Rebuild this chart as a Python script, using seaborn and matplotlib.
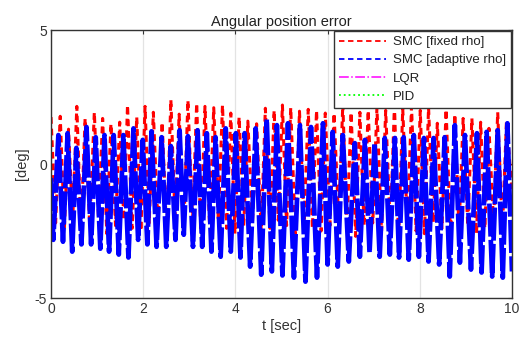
import matplotlib
matplotlib.use("Agg")
import matplotlib.pyplot as plt
from matplotlib.lines import Line2D
import seaborn as sns
import pandas as pd

# ---- data ----
blue_start = (0.0, -0.52)
blue_end = (10.0, -4.01)
blue_peak_t = [0.16, 0.36, 0.55, 0.77, 0.97, 1.16, 1.36, 1.57, 1.79, 1.99, 2.18, 2.40,
               2.60, 2.79, 2.97, 3.18, 3.38, 3.57, 3.79, 4.01, 4.20, 4.44, 4.68, 4.90,
               5.14, 5.40, 5.64, 5.90, 6.11, 6.33, 6.59, 6.81, 7.02, 7.24, 7.46, 7.65,
               7.87, 8.09, 8.30, 8.54, 8.76, 8.98, 9.24, 9.45, 9.69, 9.90]
blue_peak = [1.08, 1.15, 0.60, 1.38, 1.00, 1.08, 1.08, 1.08, 1.33, 0.90, 1.22, 1.00,
             0.67, 1.26, 1.04, 1.26, 1.15, 1.00, 1.33, 1.15, 1.15, 1.33, 1.67, 1.45,
             1.52, 1.45, 1.38, 1.52, 1.20, 1.08, 0.78, 0.90, 0.78, 0.97, 0.97, 1.00,
             1.08, 0.97, 0.97, 1.00, 1.45, 1.08, 1.15, 1.20, 1.26, 1.52]
blue_trough_t = [0.05, 0.26, 0.46, 0.66, 0.87, 1.07, 1.26, 1.47, 1.68, 1.89, 2.09, 2.29,
                 2.50, 2.70, 2.88, 3.08, 3.28, 3.48, 3.68, 3.90, 4.11, 4.32, 4.56, 4.79,
                 5.02, 5.27, 5.52, 5.77, 6.00, 6.22, 6.46, 6.70, 6.91, 7.13, 7.35, 7.55,
                 7.76, 7.98, 8.19, 8.42, 8.65, 8.87, 9.11, 9.34, 9.57, 9.80]
blue_trough = [-2.83, -2.90, -3.27, -3.00, -3.00, -3.16, -3.27, -3.38, -3.49, -2.83, -3.00, -3.09,
               -3.09, -2.83, -2.64, -3.09, -3.09, -3.27, -3.46, -3.27, -3.49, -3.83, -4.13, -4.01,
               -4.16, -4.24, -4.39, -4.24, -3.75, -3.83, -3.64, -3.46, -3.31, -3.46, -3.38, -3.49,
               -3.57, -3.46, -3.64, -3.75, -4.20, -3.68, -3.94, -4.05, -4.20, -4.24]

red_start = (0.0, 1.75)
red_end = (10.0, -1.0)
red_peak_t = [0.20, 0.38, 0.56, 0.74, 0.94, 1.12, 1.30, 1.49, 1.66, 1.86, 2.04, 2.22,
              2.41, 2.60, 2.78, 2.97, 3.16, 3.34, 3.53, 3.72, 3.90, 4.08, 4.27, 4.46,
              4.65, 4.84, 5.02, 5.20, 5.39, 5.58, 5.76, 5.95, 6.14, 6.33, 6.51, 6.70,
              6.88, 7.07, 7.26, 7.45, 7.63, 7.82, 8.01, 8.19, 8.38, 8.57, 8.76, 8.94,
              9.13, 9.32, 9.50, 9.69, 9.88]
red_peak = [1.78, 1.30, 2.15, 1.70, 1.93, 1.70, 1.50, 1.56, 2.20, 1.75, 2.15, 1.93,
            1.56, 2.40, 1.86, 2.38, 2.27, 2.15, 2.10, 2.20, 1.90, 1.75, 1.60, 1.50,
            2.08, 2.00, 2.20, 2.10, 1.97, 2.04, 2.00, 1.90, 1.90, 2.23, 1.93, 1.93,
            2.00, 2.10, 2.00, 2.20, 2.05, 2.15, 2.00, 2.10, 1.52, 2.04, 1.86, 1.70,
            1.70, 1.56, 1.33, 1.93, 1.60]
red_trough_t = [0.10, 0.29, 0.47, 0.65, 0.84, 1.03, 1.21, 1.40, 1.58, 1.76, 1.95, 2.13,
                2.32, 2.51, 2.69, 2.88, 3.07, 3.25, 3.44, 3.63, 3.81, 3.99, 4.18, 4.37,
                4.56, 4.75, 4.93, 5.11, 5.30, 5.49, 5.67, 5.86, 6.05, 6.24, 6.42, 6.61,
                6.79, 6.98, 7.17, 7.36, 7.54, 7.73, 7.92, 8.10, 8.29, 8.48, 8.67, 8.85,
                9.04, 9.23, 9.41, 9.60, 9.79]
red_trough = [-2.2, -2.4, -2.1, -2.5, -2.3, -2.0, -2.6, -2.3, -2.1, -2.4, -2.5, -2.2,
              -2.3, -2.6, -2.0, -2.4, -2.2, -2.5, -2.3, -2.1, -2.4, -2.6, -2.3, -2.2,
              -2.5, -2.4, -2.1, -2.3, -2.6, -2.2, -2.4, -2.5, -2.3, -2.1, -2.4, -2.7,
              -2.3, -2.2, -2.5, -2.4, -2.8, -2.3, -2.5, -2.6, -2.2, -2.4, -2.8, -2.5,
              -2.3, -2.6, -2.4, -2.2, -2.5]

labels = ["SMC [fixed rho]", "SMC [adaptive rho]", "LQR", "PID"]
title = "Angular position error"
xlabel = "t [sec]"
ylabel = "[deg]"
xticks = [0, 2, 4, 6, 8, 10]
yticks = [-5, 0, 5]


def series(start, end, pt, pv, tt, tv):
    t = [start[0]] + list(pt) + list(tt) + [end[0]]
    v = [start[1]] + list(pv) + list(tv) + [end[1]]
    return pd.DataFrame({"t": t, "v": v}).sort_values("t").reset_index(drop=True)


red_df = series(red_start, red_end, red_peak_t, red_peak, red_trough_t, red_trough)
blue_df = series(blue_start, blue_end, blue_peak_t, blue_peak, blue_trough_t, blue_trough)

sns.set_theme(style="white")
plt.rcParams["font.family"] = ["Liberation Sans", "DejaVu Sans"]
plt.rcParams["axes.unicode_minus"] = False

fig, ax = plt.subplots(figsize=(5.23, 3.54), dpi=100)
fig.subplots_adjust(left=51 / 523, right=512 / 523, bottom=1 - 298 / 354, top=1 - 30 / 354)

ax.grid(True, color="#e3e3e3", linewidth=0.9)
ax.set_axisbelow(True)

sns.lineplot(data=red_df, x="t", y="v", ax=ax, estimator=None, sort=True,
             color="#ff0000", linewidth=2.2, linestyle=(0, (2.2, 1.6)))
sns.lineplot(data=blue_df, x="t", y="v", ax=ax, estimator=None, sort=True,
             color="#0000ff", linewidth=3.4, linestyle=(0, (7, 0.7)))

ax.set_xlim(0, 10)
ax.set_ylim(-5, 5)
ax.set_xticks(xticks)
ax.set_yticks(yticks)
ax.tick_params(direction="in", top=True, right=True, length=3, width=0.8,
               colors="#333333", labelsize=10, pad=3)
for s in ax.spines.values():
    s.set_color("#333333")
    s.set_linewidth(1.0)

ax.set_title(title, fontsize=10.5, color="#222222", pad=3)
ax.set_xlabel(xlabel, fontsize=10.5, color="#333333", labelpad=2)
ax.set_ylabel(ylabel, fontsize=10.5, color="#333333", labelpad=4)

handles = [
    Line2D([], [], color="#ff0000", linestyle=(0, (3, 2)), linewidth=1.3),
    Line2D([], [], color="#0000ff", linestyle=(0, (3, 2)), linewidth=1.3),
    Line2D([], [], color="#ff00ff", linestyle="-.", linewidth=1.1),
    Line2D([], [], color="#00ff00", linestyle=":", linewidth=1.3),
]
leg = ax.legend(handles, labels, loc="upper right", fontsize=9.5, frameon=True,
                fancybox=False, framealpha=1, edgecolor="#333333",
                borderaxespad=0.05, handlelength=3.6, handletextpad=0.5,
                labelspacing=0.45, borderpad=0.4)
leg.get_frame().set_linewidth(1.0)
for txt in leg.get_texts():
    txt.set_color("#222222")

fig.savefig("out.png", dpi=100)
